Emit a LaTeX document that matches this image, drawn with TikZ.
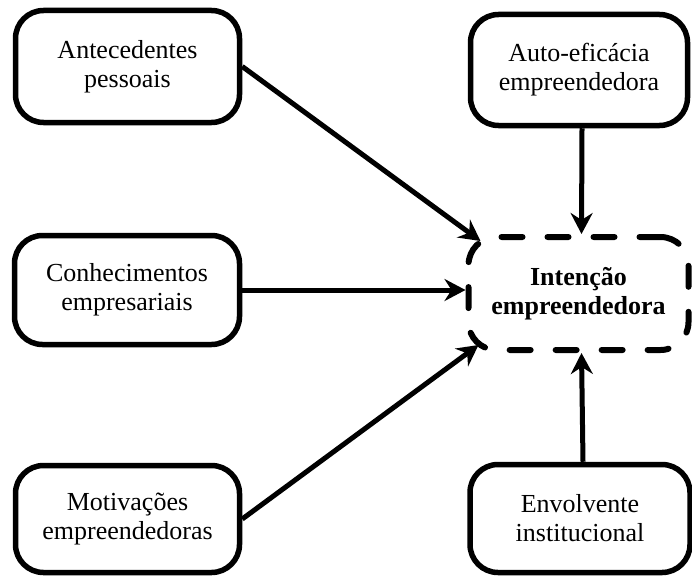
\documentclass[tikz,border=0pt]{standalone}
\usepackage{fontspec}
\setmainfont{Liberation Serif}
\usetikzlibrary{arrows.meta,calc}
\begin{document}
\begin{tikzpicture}[x=1pt,y=-1pt,
  box/.style={draw=black,line width=5.5pt,rounded corners=28pt,align=center,inner sep=0pt,
    font=\fontsize{26}{29}\selectfont},
  goalbox/.style={box,line width=6pt,dash pattern=on 21pt off 25pt,line cap=round,font=\fontsize{26}{29}\selectfont\bfseries},
  arr/.style={line width=5pt,-{Stealth[length=21pt,width=22pt,inset=7pt]}}]
\useasboundingbox (0,0) rectangle (692,575);
\node[box,minimum width=224pt,minimum height=112pt] (A) at (127.5,66.5) {Antecedentes\\pessoais};
\node[box,minimum width=217pt,minimum height=111pt] (U) at (579,70) {Auto-eficácia\\empreendedora};
\node[box,minimum width=225pt,minimum height=109pt] (C) at (127,290) {Conhecimentos\\empresariais};
\node[goalbox,minimum width=220pt,minimum height=113pt] (I) at (578.5,293.5) {Intenção\\empreendedora};
\node[box,minimum width=224pt,minimum height=107pt] (M) at (127.5,519) {Motivações\\empreendedoras};
\node[box,minimum width=220pt,minimum height=108pt] (E) at (580,518.5) {Envolvente\\institucional};
\coordinate (IA) at ($(I.north west)+(15,7)$);
\coordinate (IM) at ($(I.south west)+(13,-8)$);
\draw[arr] (A.east) -- (IA);
\draw[arr] (C.east) -- (C.east -| I.west);
\draw[arr] (M.east) -- (IM);
\draw[arr] ([xshift=3pt]U.south) -- ([xshift=3pt]I.north);
\draw[arr] ([xshift=3pt]E.north) -- ([xshift=3pt]I.south);
\end{tikzpicture}
\end{document}
